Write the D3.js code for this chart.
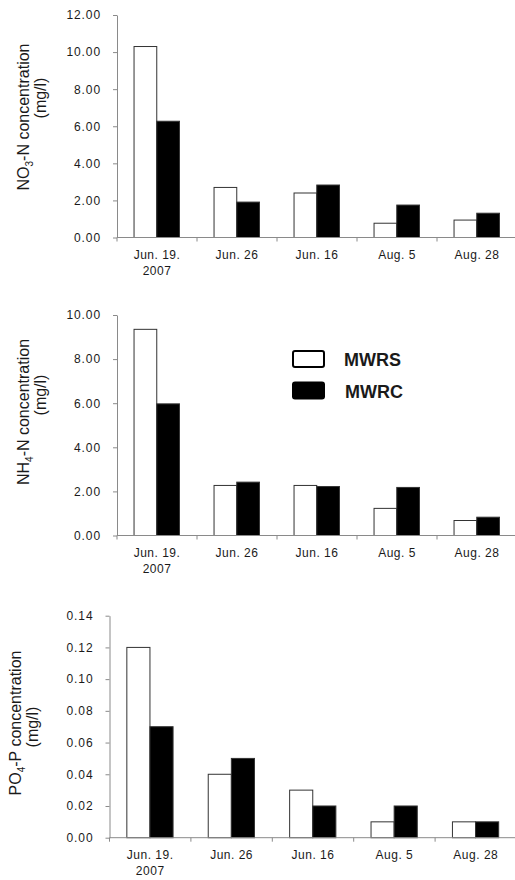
<!DOCTYPE html>
<html><head><meta charset="utf-8">
<script src="https://cdn.jsdelivr.net/npm/d3@7"></script>
<style>
html,body{margin:0;padding:0;background:#fff;}
svg{display:block;}
text{font-family:"Liberation Sans",Arial,sans-serif;fill:#1a1a1a;}
</style></head>
<body>
<svg id="chart" width="515" height="880"></svg>
<script>
const categories = ["Jun. 19.|2007", "Jun. 26", "Jun. 16", "Aug. 5", "Aug. 28"];
const seriesNames = ["MWRS", "MWRC"];
const no3MWRS = [10.3, 2.7, 2.4, 0.77, 0.94];
const no3MWRC = [6.27, 1.91, 2.83, 1.75, 1.31];
const nh4MWRS = [9.35, 2.27, 2.27, 1.23, 0.68];
const nh4MWRC = [5.97, 2.42, 2.22, 2.18, 0.83];
const po4MWRS = [0.12, 0.04, 0.03, 0.01, 0.01];
const po4MWRC = [0.07, 0.05, 0.02, 0.02, 0.01];
const no3Ticks = [0, 2, 4, 6, 8, 10, 12];
const nh4Ticks = [0, 2, 4, 6, 8, 10];
const po4Ticks = [0, 0.02, 0.04, 0.06, 0.08, 0.10, 0.12, 0.14];
const seriesFill = ["#ffffff", "#000000"];

const svg = d3.select("#chart");

function drawPanel(o) {
  const g = svg.append("g");
  const y = d3.scaleLinear().domain([0, d3.max(o.ticks)]).range([o.y0, o.y1]);
  const x = d3.scaleBand().domain(categories).range([o.xl, o.xr]).padding(0);
  const sub = d3.scaleBand().domain(seriesNames)
      .range([x.step() * 0.213, x.step() * 0.781]).padding(0);

  // y axis
  const ya = g.append("g").attr("transform", `translate(${o.xl},0)`)
    .call(d3.axisLeft(y).tickValues(o.ticks).tickSize(4).tickSizeOuter(0)
      .tickPadding(12).tickFormat(d3.format(".2f")));
  ya.select(".domain").attr("stroke", "#8a8a8a");
  ya.selectAll(".tick line").attr("stroke", "#8a8a8a");
  ya.selectAll(".tick text").attr("font-size", 12).attr("letter-spacing", "0.9px")
    .style("font-family", "'Liberation Sans',Arial,sans-serif").attr("fill", "#1a1a1a");

  // bars
  const rows = categories.map((c, i) => ({c, vals: [o.a[i], o.b[i]]}));
  const grp = g.selectAll(".grp").data(rows).join("g")
    .attr("transform", d => `translate(${x(d.c)},0)`);
  grp.selectAll("rect").data(d => d.vals.map((v, j) => ({v, s: seriesNames[j], j})))
    .join("rect")
    .attr("x", d => sub(d.s)).attr("width", sub.bandwidth())
    .attr("y", d => y(d.v)).attr("height", d => y(0) - y(d.v))
    .attr("fill", d => seriesFill[d.j])
    .attr("stroke", "#333").attr("stroke-width", 1);

  // x axis
  g.append("line").attr("x1", o.xl).attr("x2", o.xr).attr("y1", y(0)).attr("y2", y(0))
    .attr("stroke", "#8a8a8a");
  g.selectAll(".xt").data(categories).join("line")
    .attr("x1", d => x(d)).attr("x2", d => x(d))
    .attr("y1", y(0)).attr("y2", y(0) + 4).attr("stroke", "#8a8a8a");
  const lbl = g.selectAll(".xl").data(categories).join("text")
    .attr("text-anchor", "middle").attr("font-size", 12).attr("letter-spacing", "0.5px")
    .attr("transform", d => `translate(${x(d) + x.bandwidth() / 2},${y(0) + 21})`);
  lbl.each(function(d) {
    const parts = d.split("|");
    const t = d3.select(this);
    parts.forEach((p, i) => t.append("tspan").attr("x", 0).attr("dy", i === 0 ? 0 : 16).text(p));
  });

  // y title
  const t1 = g.append("text").attr("text-anchor", "middle").attr("font-size", 16)
    .attr("transform", `translate(${o.tx1},${o.ty1}) rotate(-90)`);
  t1.append("tspan").text(o.title[0]);
  t1.append("tspan").attr("font-size", 10).attr("dy", 4).text(o.title[1]);
  t1.append("tspan").attr("dy", -4).text(o.title[2]);
  g.append("text").attr("text-anchor", "middle").attr("font-size", 16)
    .attr("transform", `translate(${o.tx2},${o.ty2}) rotate(-90)`).text("(mg/l)");
  return {g, x, y};
}

drawPanel({a: no3MWRS, b: no3MWRC, ticks: no3Ticks, y0: 237.5, y1: 15, xl: 117, xr: 517,
  title: ["NO", "3", "-N concentration"], tx1: 29, ty1: 117, tx2: 46, ty2: 98});
drawPanel({a: nh4MWRS, b: nh4MWRC, ticks: nh4Ticks, y0: 535.5, y1: 315, xl: 117, xr: 517,
  title: ["NH", "4", "-N concentration"], tx1: 29, ty1: 412, tx2: 46, ty2: 395});
drawPanel({a: po4MWRS, b: po4MWRC, ticks: po4Ticks, y0: 837.7, y1: 615.7, xl: 109.5, xr: 516.5,
  title: ["PO", "4", "-P concentration"], tx1: 21, ty1: 723, tx2: 38, ty2: 727});

// legend
const leg = svg.append("g").attr("transform", "translate(293,351)");
const li = leg.selectAll("g").data(seriesNames).join("g")
  .attr("transform", (d, i) => `translate(0,${i * 31.5})`);
li.append("rect").attr("width", 31).attr("height", 16).attr("rx", 2)
  .attr("fill", (d, i) => seriesFill[i]).attr("stroke", "#000").attr("stroke-width", 2);
li.append("text").attr("x", (d, i) => 51 + i).attr("y", 15).attr("font-size", 18)
  .attr("font-weight", "bold").attr("fill", "#000").text(d => d);
</script>
</body></html>
